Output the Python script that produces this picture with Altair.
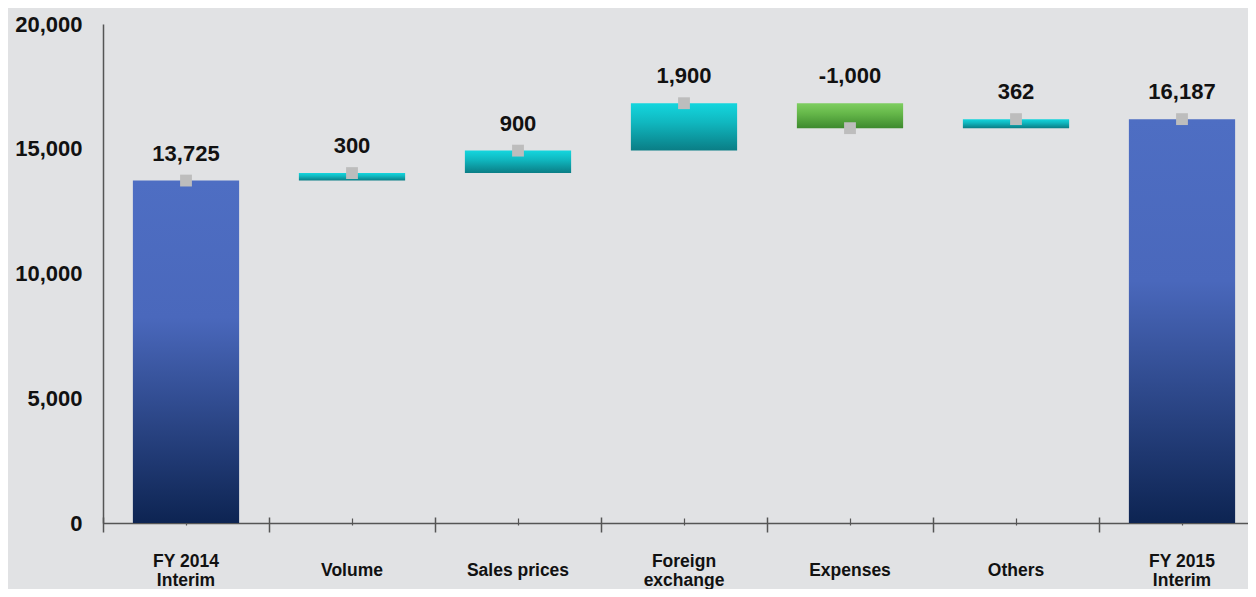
import altair as alt
import pandas as pd

categories = ["FY 2014\nInterim", "Volume", "Sales prices", "Foreign\nexchange",
              "Expenses", "Others", "FY 2015\nInterim"]
values = [13725, 300, 900, 1900, -1000, 362, 16187]
kinds = ["total", "up", "up", "up", "down", "up", "total"]
y_ticks = [0, 5000, 10000, 15000, 20000]

rows = []
run = 0
for c, v, k in zip(categories, values, kinds):
    if k == "total":
        start, end = 0, v
        run = v
    else:
        start, end = run, run + v
        run = end
    rows.append({"cat": c, "value": v, "kind": k, "start": start, "end": end,
                 "top": max(start, end),
                 "label": f"{v:,}"})
df = pd.DataFrame(rows)

FONT = "Liberation Sans"
AX = "#555555"

xscale = alt.Scale(domain=categories, paddingInner=0, paddingOuter=0, range=[0, 1162])
yscale = alt.Scale(domain=[0, 20000], nice=False)

def grad(top, mid, bottom, mid_off=0.35):
    return alt.Gradient(
        gradient="linear", x1=0, x2=0, y1=0, y2=1,
        stops=[alt.GradientStop(color=top, offset=0),
               alt.GradientStop(color=mid, offset=mid_off),
               alt.GradientStop(color=bottom, offset=1)])

base = alt.Chart(df)

label_axis = alt.Axis(title=None, ticks=False, domain=True, domainColor=AX,
                      domainWidth=1.5, labelFont=FONT, labelFontSize=17.5,
                      labelFontWeight="bold", labelColor="#111111",
                      labelAngle=0,
                      labelBaseline={"condition": {"test": "indexof(datum.value, '\\n') >= 0",
                                                   "value": "bottom"},
                                     "value": "middle"},
                      labelPadding=47,
                      labelExpr="split(datum.label, '\\n')", labelLineHeight=19,
                      orient="bottom", grid=False)
major_axis = alt.Axis(title=None, labels=False, domain=False, ticks=True,
                      tickSize=15, tickColor=AX, tickWidth=1.5, bandPosition=0,
                      offset=-6, orient="bottom", grid=False)
minor_axis = alt.Axis(title=None, labels=False, domain=False, ticks=True,
                      tickSize=7, tickColor=AX, tickWidth=1.2, bandPosition=0.5,
                      offset=-5, orient="bottom", grid=False)
y_axis = alt.Axis(title=None, values=y_ticks, ticks=False,
                  labelExpr="format(datum.value, ',')",
                  domain=True, domainColor=AX, domainWidth=1.5, grid=False,
                  labelFont=FONT, labelFontSize=22, labelFontWeight="bold",
                  labelColor="#111111", labelPadding=21)

totals = base.transform_filter("datum.kind == 'total'").mark_bar(
    width={"band": 0.64},
    color=grad("#4E6EC3", "#4A68BC", "#0D2452", 0.4)
).encode(
    x=alt.X("cat:N", sort=categories, scale=xscale, axis=label_axis),
    y=alt.Y("start:Q", scale=yscale, axis=y_axis),
    y2="end:Q",
)

ups = base.transform_filter("datum.kind == 'up'").mark_bar(
    width={"band": 0.64},
    color=grad("#14D6DE", "#10B8C0", "#0A7D85", 0.4)
).encode(
    x=alt.X("cat:N", sort=categories, scale=xscale, axis=major_axis),
    y=alt.Y("start:Q", scale=yscale, axis=None),
    y2="end:Q",
)

downs = base.transform_filter("datum.kind == 'down'").mark_bar(
    width={"band": 0.64},
    color=grad("#7ECE60", "#66B84A", "#3D8A2E", 0.4)
).encode(
    x=alt.X("cat:N", sort=categories, scale=xscale, axis=minor_axis),
    y=alt.Y("start:Q", scale=yscale, axis=None),
    y2="end:Q",
)

markers = base.mark_square(size=140, color="#BDBDBD", opacity=1, filled=True).encode(
    x=alt.X("cat:N", sort=categories, scale=xscale, axis=None),
    y=alt.Y("end:Q", scale=yscale, axis=None),
)

texts = base.mark_text(font=FONT, fontSize=22, fontWeight="bold", color="#111111",
                       baseline="middle", dy=-27).encode(
    x=alt.X("cat:N", sort=categories, scale=xscale, axis=None),
    y=alt.Y("top:Q", scale=yscale, axis=None),
    text="label:N",
)

chart = alt.layer(totals, ups, downs, markers, texts).resolve_axis(
    x="independent", y="independent"
).resolve_scale(x="shared", y="shared").properties(
    width=1145, height=499,
    autosize=alt.AutoSizeParams(type="none"),
    padding={"left": 95, "top": 16, "right": 0, "bottom": 66},
    background="#E1E2E4",
).configure_view(stroke=None)

chart.save("out.html", embed_options={"renderer": "svg", "actions": False})
